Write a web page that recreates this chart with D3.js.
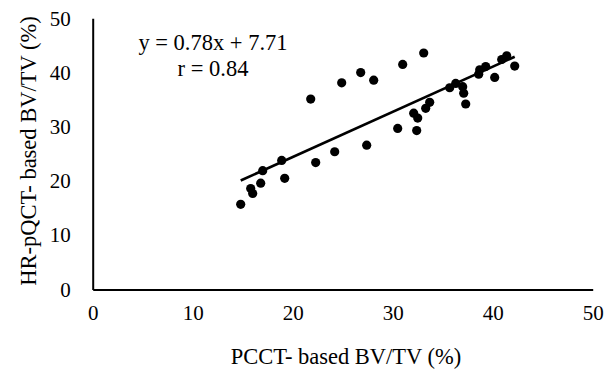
<!DOCTYPE html>
<html>
<head>
<meta charset="utf-8">
<script src="https://cdn.jsdelivr.net/npm/d3@7"></script>
<style>
  body { margin: 0; background: #fff; }
  text { font-family: "Liberation Serif", "Times New Roman", serif; fill: #000; }
</style>
</head>
<body>
<div id="chart"></div>
<script>
// PCCT-based BV/TV (%) for each sample
const pcct = [14.8, 15.8, 16.0, 16.8, 17.0, 18.9, 19.2, 21.8, 22.3, 24.2, 24.9, 26.8,
  27.4, 28.1, 30.5, 31.0, 32.4, 33.1, 32.1, 32.5, 33.3, 33.7, 35.7, 36.3, 37.0,
  37.1, 37.3, 38.6, 38.7, 39.3, 40.2, 40.9, 41.4, 42.2];
// HR-pQCT-based BV/TV (%) for the same samples
const hrpqct = [15.7, 18.6, 17.7, 19.6, 21.9, 23.8, 20.5, 35.1, 23.4, 25.4, 38.1, 40.0,
  26.6, 38.6, 29.7, 41.5, 29.3, 43.6, 32.5, 31.6, 33.4, 34.5, 37.2, 38.0, 37.4,
  36.2, 34.2, 39.7, 40.5, 41.1, 39.1, 42.4, 43.1, 41.2];
const xTicks = [0, 10, 20, 30, 40, 50];
const yTicks = [0, 10, 20, 30, 40, 50];
const equationLines = ["y = 0.78x + 7.71", "r = 0.84"];

const width = 616, height = 371;
const serif = '"Liberation Serif", "Times New Roman", serif';
const svg = d3.select("#chart").append("svg")
  .attr("width", width)
  .attr("height", height);

const x = d3.scaleLinear().domain([0, 50]).range([92.7, 592.7]);
const y = d3.scaleLinear().domain([0, 50]).range([289.5, 18.3]);

// axes (Excel style: no tick marks)
const xAxis = svg.append("g")
  .attr("transform", "translate(0," + y(0) + ")")
  .call(d3.axisBottom(x).tickValues(xTicks).tickSize(0).tickPadding(16).tickFormat(d3.format("d")));
const yAxis = svg.append("g")
  .attr("transform", "translate(" + x(0) + ",0)")
  .call(d3.axisLeft(y).tickValues(yTicks).tickSize(0).tickPadding(22).tickFormat(d3.format("d")));

[xAxis, yAxis].forEach(g => {
  g.attr("font-family", null).attr("font-size", null);
  g.select(".domain").attr("stroke", "#000").attr("stroke-width", 2);
  g.selectAll("text")
    .style("font-family", serif)
    .style("font-size", "21px");
});

// points
const points = pcct.map((v, i) => ({ x: v, y: hrpqct[i] }));
svg.append("g").selectAll("circle")
  .data(points)
  .enter()
  .append("circle")
  .attr("cx", d => x(d.x))
  .attr("cy", d => y(d.y))
  .attr("r", 4.6)
  .attr("fill", "#000");

// least-squares trend line over the data range
const mx = d3.mean(pcct), my = d3.mean(hrpqct);
const slope = d3.sum(points, d => (d.x - mx) * (d.y - my)) / d3.sum(points, d => (d.x - mx) ** 2);
const intercept = my - slope * mx;
const xr = d3.extent(pcct);
const line = d3.line().x(d => x(d)).y(d => y(slope * d + intercept));
svg.append("path")
  .datum(xr)
  .attr("fill", "none")
  .attr("stroke", "#000")
  .attr("stroke-width", 2.6)
  .attr("d", line);

// equation
svg.append("g").selectAll("text")
  .data(equationLines)
  .enter()
  .append("text")
  .attr("x", 213)
  .attr("y", (d, i) => 50 + i * 26)
  .attr("text-anchor", "middle")
  .style("font-size", "22.5px")
  .text(d => d);

// axis titles
svg.append("text")
  .attr("x", 346)
  .attr("y", 364)
  .attr("text-anchor", "middle")
  .style("font-size", "22.5px")
  .text("PCCT- based BV/TV  (%)");

svg.append("text")
  .attr("transform", "translate(36,151) rotate(-90)")
  .attr("text-anchor", "middle")
  .style("font-size", "22.5px")
  .text("HR-pQCT- based BV/TV (%)");
</script>
</body>
</html>
